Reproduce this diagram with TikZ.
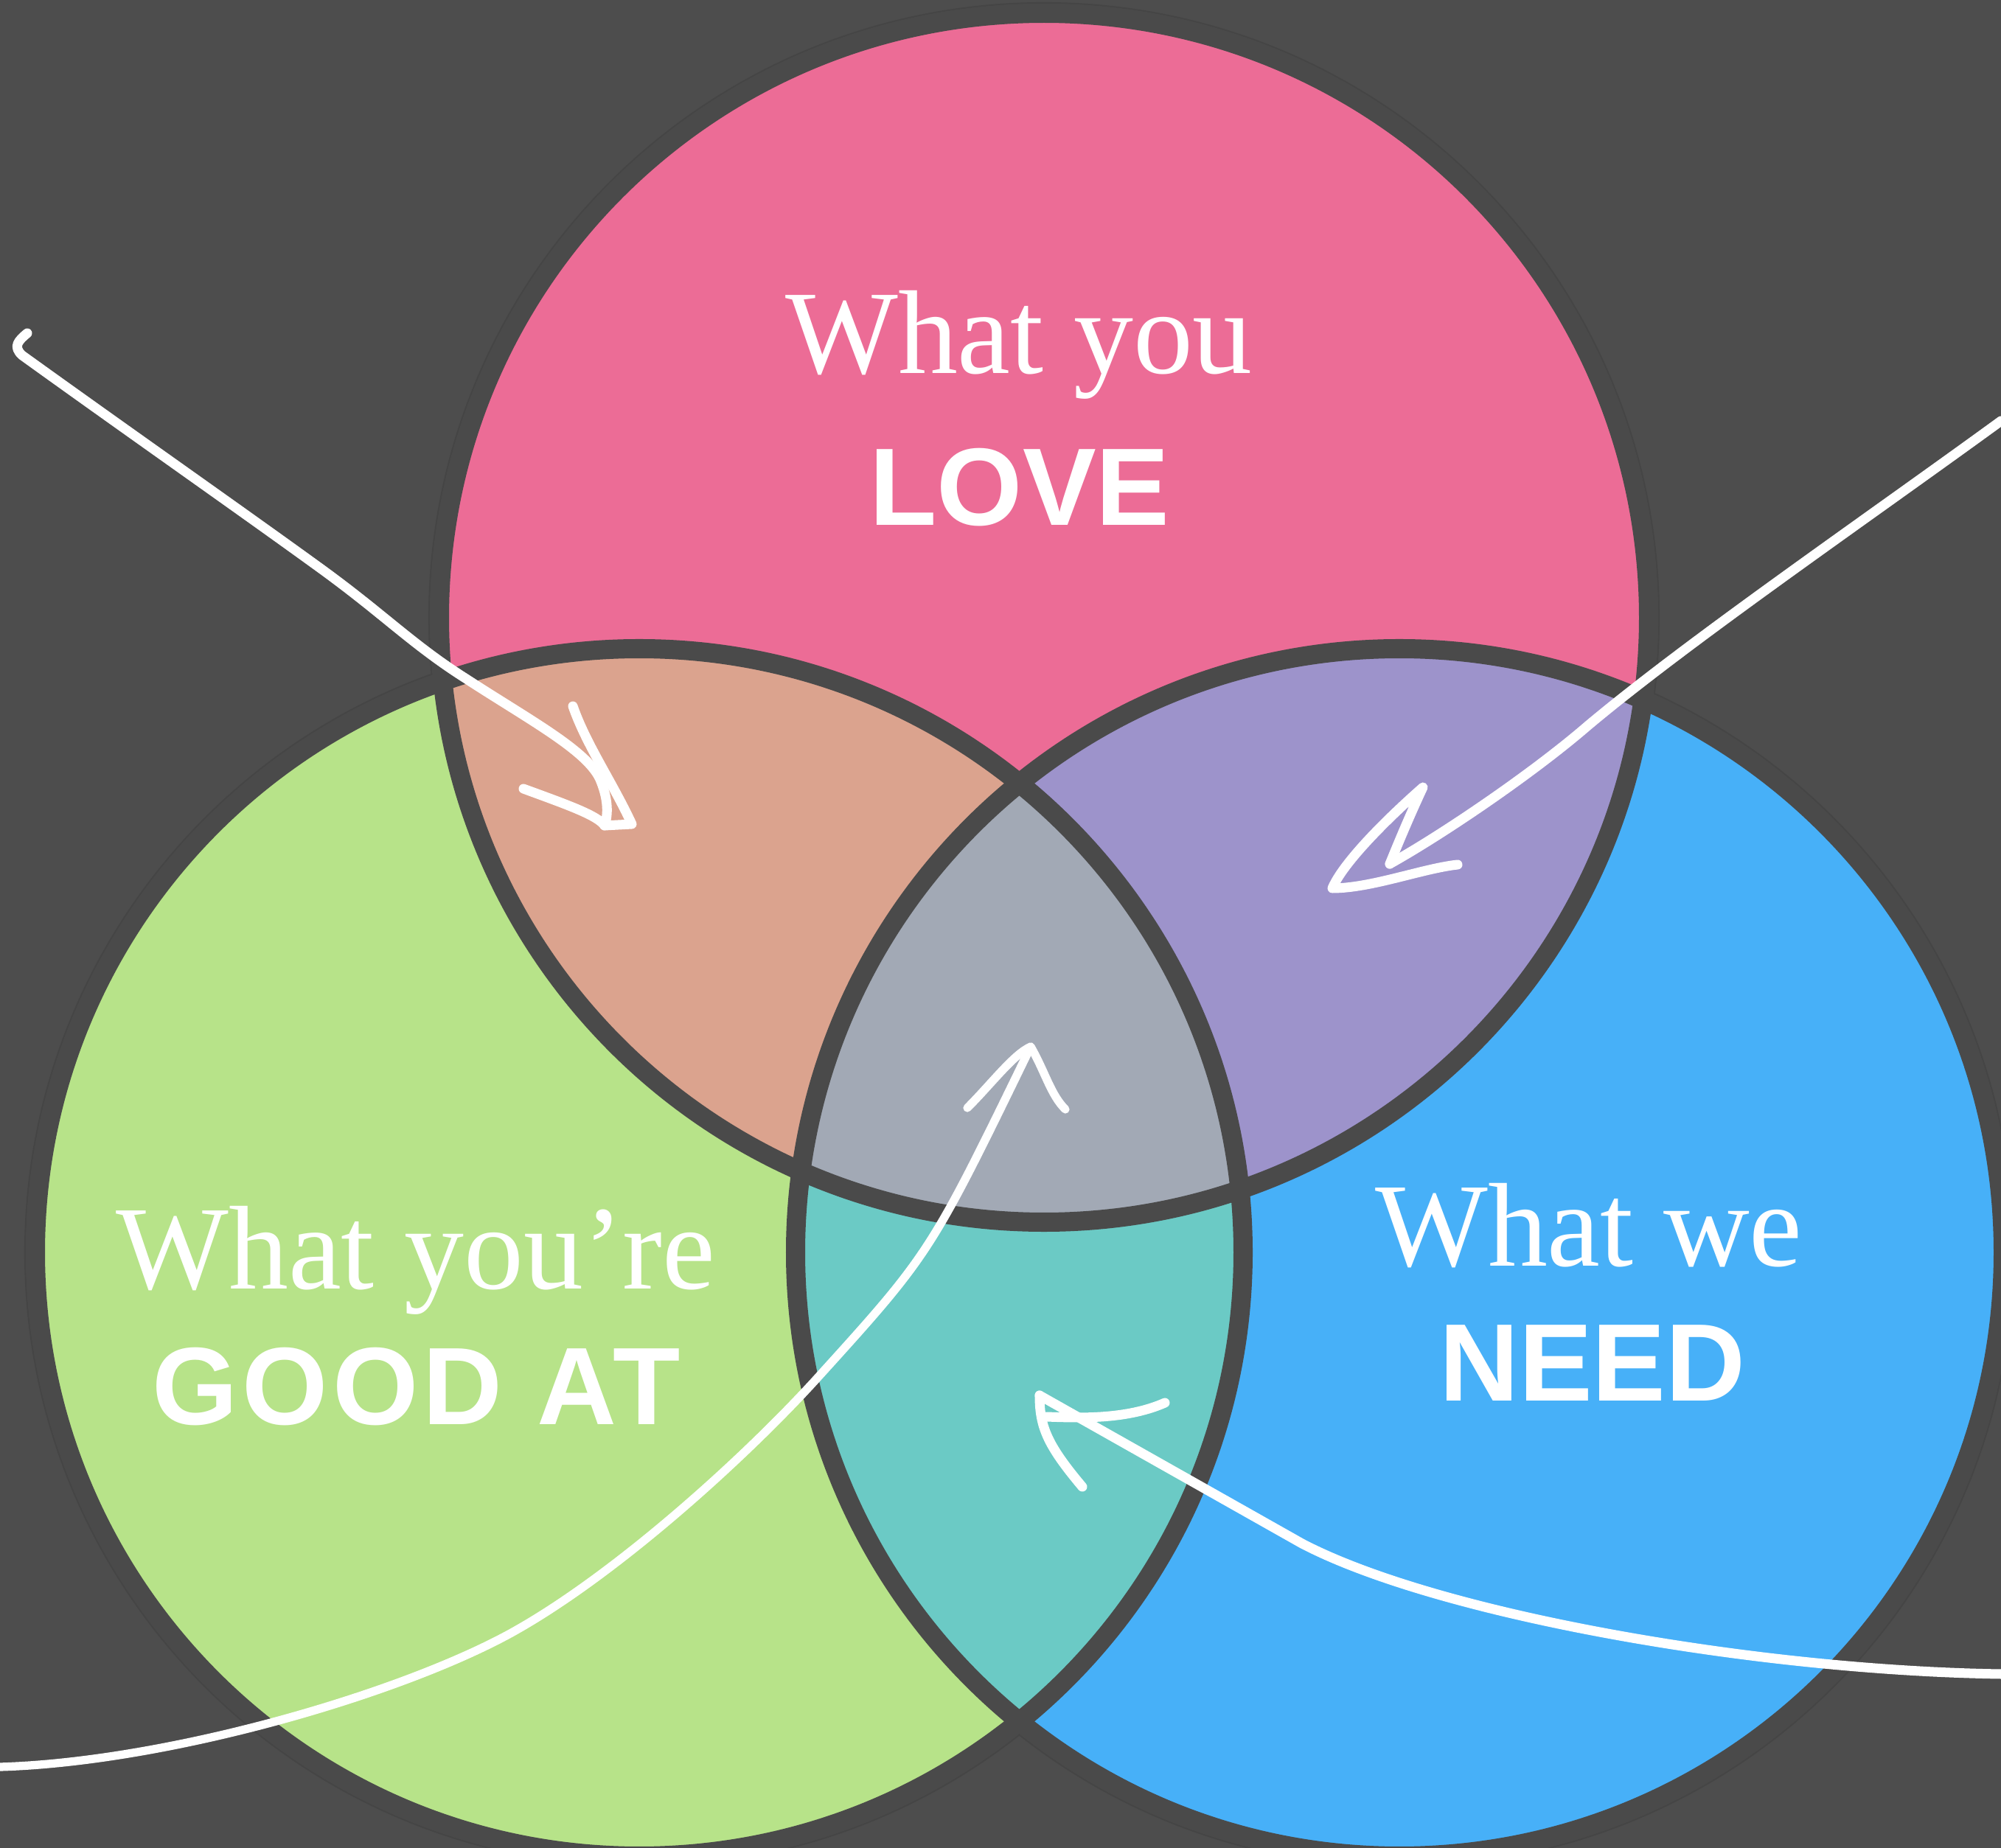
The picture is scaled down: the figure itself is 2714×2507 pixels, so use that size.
\documentclass[tikz,border=0pt]{standalone}
\usepackage{fontspec}
\setmainfont{Liberation Serif}
\newfontfamily\capsfont{Liberation Sans}
\usetikzlibrary{positioning,calc}

\definecolor{bg}{HTML}{4D4D4D}
\definecolor{rim}{HTML}{4A4A4A}
\definecolor{halo}{HTML}{454545}
\definecolor{love}{HTML}{EC6C96}
\definecolor{good}{HTML}{B7E389}
\definecolor{need}{HTML}{47B0F8}
\definecolor{lovegood}{HTML}{DBA38E}
\definecolor{loveneed}{HTML}{9D93CB}
\definecolor{goodneed}{HTML}{6BCAC5}
\definecolor{allthree}{HTML}{A2A9B5}

\begin{document}
\begin{tikzpicture}[
    x=0.01cm, y=-0.01cm,
    outline/.style={draw=rim, line width=7.4pt},
    haloring/.style={draw=halo, line width=0.6pt},
    serifline/.style={text=white, anchor=base, inner sep=0pt, font=\fontsize{46}{50}\selectfont},
    capsline/.style={text=white, anchor=base, inner sep=0pt, font=\capsfont\bfseries\fontsize{42.5}{46}\selectfont},
    scrawl/.style={draw=white, line width=3.7pt, line cap=round, line join=round}
]
    \useasboundingbox (0,0) rectangle (2714,2507);
    \fill[bg] (0,0) rectangle (2714,2507);

    \coordinate (lovec) at (1416,838);
    \coordinate (goodc) at (867,1699);
    \coordinate (needc) at (1898,1699);

    % faint outer edge
    \draw[haloring] (lovec) circle[radius=834];
    \draw[haloring] (goodc) circle[radius=833];
    \draw[haloring] (needc) circle[radius=833];

    % the three sets
    \fill[love] (lovec) circle[radius=820];
    \fill[good] (goodc) circle[radius=819];
    \fill[need] (needc) circle[radius=819];
    \begin{scope}
        \clip (goodc) circle[radius=819];
        \fill[goodneed] (needc) circle[radius=819];
    \end{scope}
    \begin{scope}
        \clip (lovec) circle[radius=820];
        \fill[lovegood] (goodc) circle[radius=819];
        \fill[loveneed] (needc) circle[radius=819];
        \clip (goodc) circle[radius=819];
        \fill[allthree] (needc) circle[radius=819];
    \end{scope}
    \foreach \c/\r in {lovec/820, goodc/819, needc/819}
        \draw[outline] (\c) circle[radius=\r];

    % labels
    \node[serifline] (lovetop) at (1382,507) {What you};
    \node[capsline] (lovebig) at (1383,713) {LOVE};
    \node[serifline] (goodtop) at (564,1748) {What you’re};
    \node[capsline] (goodbig) at (565,1932) {\addfontfeature{LetterSpace=4}GOOD AT};
    \node[serifline] (needtop) at (2155,1717) {What we};
    \node[capsline] (needbig) at (2160,1900) {NEED};

    % hand drawn arrows
    \coordinate (tipa) at (857,1118);
    \draw[scrawl] (37,452) .. controls (25,462) and (17,470) .. (30,482)
        .. controls (180,590) and (330,695) .. (436,772)
        .. controls (520,833) and (560,875) .. (631,920)
        .. controls (720,978) and (800,1020) .. (815,1060)
        .. controls (825,1085) and (825,1105) .. (820,1120);
    \draw[scrawl] (710,1070) .. controls (770,1092) and (810,1106) .. (820,1120) -- (tipa)
        .. controls (830,1060) and (795,1010) .. (777,958);

    \coordinate (tipb) at (1930,1068);
    \draw[scrawl] (2714,571) .. controls (2530,705) and (2290,870) .. (2153,985)
        .. controls (2080,1048) and (1960,1130) .. (1885,1172);
    \draw[scrawl] (1885,1172) .. controls (1900,1135) and (1915,1100) .. (tipb)
        .. controls (1880,1112) and (1822,1170) .. (1807,1205)
        .. controls (1860,1205) and (1930,1178) .. (1977,1173);

    \coordinate (tipc) at (1398,1420);
    \draw[scrawl, line width=3.2pt] (0,2397) .. controls (230,2390) and (542,2298) .. (692,2216)
        .. controls (832,2139) and (1008,1980) .. (1108,1870)
        .. controls (1262,1700) .. (tipc);
    \draw[scrawl, line width=3.2pt] (1312,1503) .. controls (1345,1470) and (1375,1430) .. (tipc)
        .. controls (1418,1455) and (1425,1485) .. (1445,1505);

    \coordinate (tipd) at (1410,1893);
    \draw[scrawl] (tipd) -- (1766,2094)
        .. controls (1950,2190) and (2380,2266) .. (2714,2271);
    \draw[scrawl] (1580,1903) .. controls (1530,1925) and (1470,1924) .. (1420,1922);
    \draw[scrawl] (tipd) .. controls (1410,1935) and (1420,1960) .. (1468,2017);
\end{tikzpicture}
\end{document}
